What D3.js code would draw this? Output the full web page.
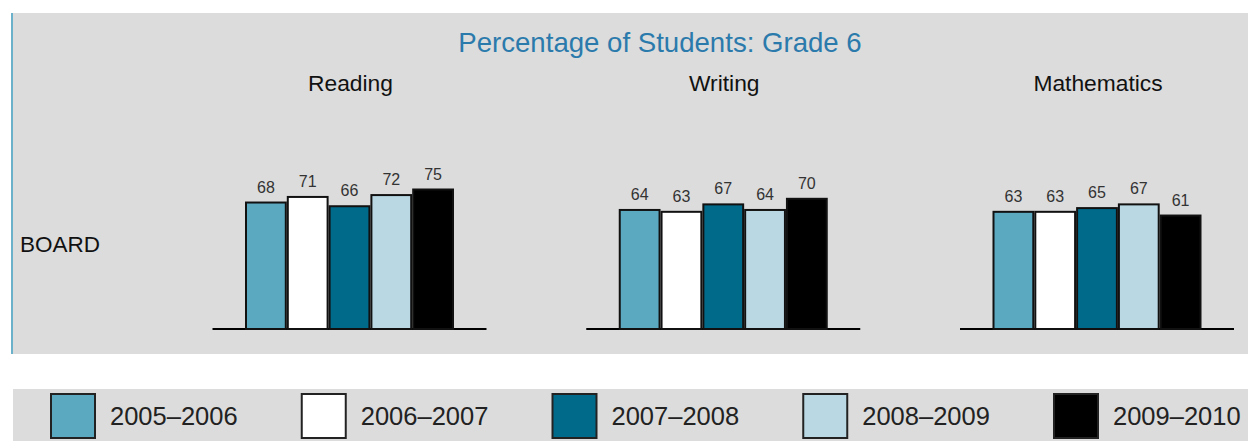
<!DOCTYPE html>
<html>
<head>
<meta charset="utf-8">
<script src="https://cdn.jsdelivr.net/npm/d3@7"></script>
<style>
  html, body { margin: 0; padding: 0; background: #fff; }
  svg { display: block; font-family: Arial, "Liberation Sans", sans-serif; }
</style>
</head>
<body>
<svg id="chart" width="1248" height="441"></svg>
<script>
"use strict";

var subjects = ["Reading", "Writing", "Mathematics"];
var years = ["2005\u20132006", "2006\u20132007", "2007\u20132008", "2008\u20132009", "2009\u20132010"];
var reading = [68, 71, 66, 72, 75];
var writing = [64, 63, 67, 64, 70];
var mathematics = [63, 63, 65, 67, 61];
var colors = ["#5ba8c1", "#ffffff", "#006a8b", "#b9d8e3", "#000000"];

var series = [reading, writing, mathematics];

var svg = d3.select("#chart");

// panel backgrounds
svg.append("rect").attr("x", 12).attr("y", 13).attr("width", 1236).attr("height", 341).attr("fill", "#dcdcdc");
svg.append("rect").attr("x", 11).attr("y", 13).attr("width", 2).attr("height", 341).attr("fill", "#6bb1c9");
svg.append("rect").attr("x", 13).attr("y", 389).attr("width", 1235).attr("height", 52).attr("fill", "#dcdcdc");

svg.append("text")
    .attr("x", 660).attr("y", 52)
    .attr("text-anchor", "middle")
    .attr("fill", "#2b7aac")
    .style("font-size", "27.6px")
    .text("Percentage of Students: Grade 6");

svg.append("text")
    .attr("x", 20).attr("y", 252)
    .attr("fill", "#111")
    .style("font-size", "22.5px")
    .text("BOARD");

var groupScale = d3.scalePoint().domain(subjects).range([349.5, 1097]);
var barScale = d3.scaleBand().domain(years).range([-104.5, 104.5]).padding(0);
var valueScale = d3.scaleLinear().domain([0, 100]).range([329, 143]);

var groups = svg.selectAll(".subject")
    .data(subjects)
  .enter().append("g")
    .attr("class", "subject")
    .attr("transform", function (d) { return "translate(" + groupScale(d) + ",0)"; });

groups.append("text")
    .attr("x", 1).attr("y", 91)
    .attr("text-anchor", "middle")
    .attr("fill", "#111")
    .style("font-size", "22.8px")
    .text(function (d) { return d; });

groups.append("line")
    .attr("x1", -137).attr("x2", 137)
    .attr("y1", valueScale(0)).attr("y2", valueScale(0))
    .attr("stroke", "#000").attr("stroke-width", 2);

groups.each(function (d, i) {
    var g = d3.select(this);
    var rows = series[i].map(function (v, j) { return { year: years[j], value: v, color: colors[j] }; });

    g.selectAll(".bar")
        .data(rows)
      .enter().append("rect")
        .attr("class", "bar")
        .attr("x", function (r) { return barScale(r.year) + 1; })
        .attr("width", barScale.bandwidth() - 2)
        .attr("y", function (r) { return valueScale(r.value); })
        .attr("height", function (r) { return valueScale(0) - valueScale(r.value); })
        .attr("fill", function (r) { return r.color; })
        .attr("stroke", "#111")
        .attr("stroke-width", 2);

    g.selectAll(".lbl")
        .data(rows)
      .enter().append("text")
        .attr("class", "lbl")
        .attr("x", function (r) { return barScale(r.year) + barScale.bandwidth() / 2; })
        .attr("y", function (r) { return valueScale(r.value) - 10; })
        .attr("text-anchor", "middle")
        .attr("fill", "#333")
        .style("font-size", "16px")
        .text(function (r) { return r.value; });
});

// legend
var legendScale = d3.scalePoint().domain(years).range([50, 1053]);

var legend = svg.selectAll(".legend")
    .data(years)
  .enter().append("g")
    .attr("class", "legend")
    .attr("transform", function (d) { return "translate(" + legendScale(d) + ",393)"; });

legend.append("rect")
    .attr("x", 1).attr("y", 1)
    .attr("width", 44).attr("height", 44)
    .attr("fill", function (d, i) { return colors[i]; })
    .attr("stroke", "#222")
    .attr("stroke-width", 2);

legend.append("text")
    .attr("x", 60).attr("y", 32)
    .attr("fill", "#222")
    .style("font-size", "25.5px")
    .text(function (d) { return d; });
</script>
</body>
</html>
